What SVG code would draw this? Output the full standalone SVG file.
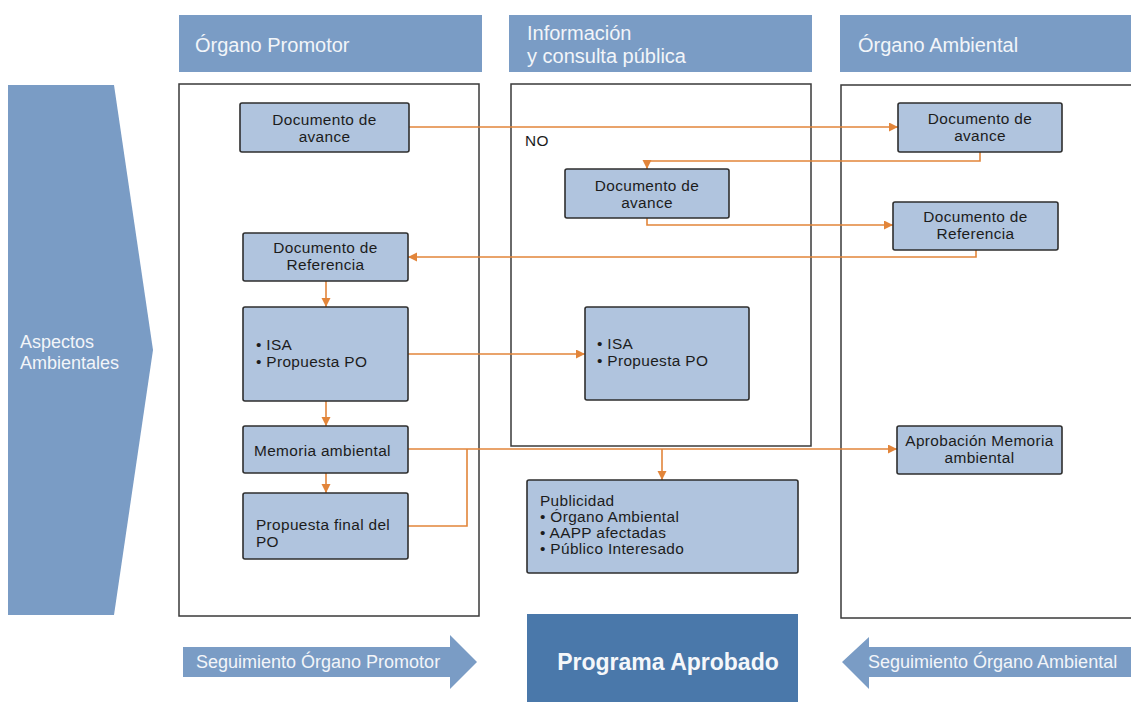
<svg xmlns="http://www.w3.org/2000/svg" width="1131" height="702" viewBox="0 0 1131 702">
<style>
.hdr{fill:#7A9CC5}
.hdrt{font-family:"Liberation Sans",Arial,sans-serif;font-size:20px;fill:#F2F5F9}
.cont{fill:#fff;stroke:#3a3a3a;stroke-width:1.5}
.box{fill:#B0C4DE;stroke:#2e2e2e;stroke-width:1.6}
.bt{font-family:"Liberation Sans",Arial,sans-serif;font-size:15.4px;letter-spacing:0.35px;fill:#1c1c1c}
.c{text-anchor:middle}
.con{fill:none;stroke:#E2853A;stroke-width:1.6}
.wt{font-family:"Liberation Sans",Arial,sans-serif;font-size:18px;fill:#F2F5F9}
</style>
<defs>
<marker id="ah" markerUnits="userSpaceOnUse" markerWidth="10" markerHeight="10" refX="9" refY="4.5" orient="auto">
<path d="M0,0 L9,4.5 L0,9 z" fill="#E2853A"/>
</marker>
</defs>
<rect width="1131" height="702" fill="#fff"/>

<g id="header-promotor">
<rect class="hdr" x="179" y="15" width="303" height="57"/>
<text class="hdrt" x="195" y="52">Órgano Promotor</text>
</g>
<g id="header-info">
<rect class="hdr" x="509" y="15" width="303" height="57"/>
<text class="hdrt" x="527" y="40">Información</text>
<text class="hdrt" x="527" y="63">y consulta pública</text>
</g>
<g id="header-ambiental">
<rect class="hdr" x="840" y="15" width="291" height="57"/>
<text class="hdrt" x="858" y="52">Órgano Ambiental</text>
</g>

<g id="aspectos">
<polygon class="hdr" points="8,85 114,85 153,350 114,615 8,615"/>
<text class="wt" x="20" y="348">Aspectos</text>
<text class="wt" x="20" y="369">Ambientales</text>
</g>

<g id="container-promotor"><rect class="cont" x="179" y="84" width="300" height="532"/></g>
<g id="container-info">
<rect class="cont" x="511" y="84" width="300" height="362"/>
<text class="bt" x="525" y="146">NO</text>
</g>
<g id="container-ambiental"><rect class="cont" x="841" y="85" width="295" height="533"/></g>

<g id="connectors">
<path class="con" d="M409,127 H898" marker-end="url(#ah)"/>
<path class="con" d="M980,152 V161 H647 V169" marker-end="url(#ah)"/>
<path class="con" d="M647,218 V225 H893" marker-end="url(#ah)"/>
<path class="con" d="M976,250 V257 H408" marker-end="url(#ah)"/>
<path class="con" d="M326,281 V307" marker-end="url(#ah)"/>
<path class="con" d="M408,354 H585" marker-end="url(#ah)"/>
<path class="con" d="M326,401 V426" marker-end="url(#ah)"/>
<path class="con" d="M326,473 V493" marker-end="url(#ah)"/>
<path class="con" d="M408,449 H897" marker-end="url(#ah)"/>
<path class="con" d="M662,449 V480" marker-end="url(#ah)"/>
<path class="con" d="M408,526 H467 V449"/>
</g>

<g id="doc-avance-promotor">
<rect class="box" x="240" y="103" width="169" height="49" rx="2"/>
<text class="bt c" x="324.5" y="125">Documento de</text>
<text class="bt c" x="324.5" y="142">avance</text>
</g>
<g id="doc-avance-info">
<rect class="box" x="565" y="169" width="164" height="49" rx="2"/>
<text class="bt c" x="647" y="191">Documento de</text>
<text class="bt c" x="647" y="208">avance</text>
</g>
<g id="doc-avance-ambiental">
<rect class="box" x="898" y="103" width="164" height="49" rx="2"/>
<text class="bt c" x="980" y="124">Documento de</text>
<text class="bt c" x="980" y="141">avance</text>
</g>
<g id="doc-referencia-ambiental">
<rect class="box" x="893" y="202" width="165" height="48" rx="2"/>
<text class="bt c" x="975.5" y="222">Documento de</text>
<text class="bt c" x="975.5" y="239">Referencia</text>
</g>
<g id="doc-referencia-promotor">
<rect class="box" x="243" y="233" width="165" height="48" rx="2"/>
<text class="bt c" x="325.5" y="253">Documento de</text>
<text class="bt c" x="325.5" y="270">Referencia</text>
</g>
<g id="isa-promotor">
<rect class="box" x="243" y="307" width="165" height="94" rx="2"/>
<text class="bt" x="256" y="350">• ISA</text>
<text class="bt" x="256" y="367">• Propuesta PO</text>
</g>
<g id="isa-info">
<rect class="box" x="585" y="307" width="164" height="93" rx="2"/>
<text class="bt" x="597" y="349">• ISA</text>
<text class="bt" x="597" y="366">• Propuesta PO</text>
</g>
<g id="memoria">
<rect class="box" x="243" y="426" width="165" height="47" rx="2"/>
<text class="bt" x="254" y="456">Memoria ambiental</text>
</g>
<g id="propuesta-final">
<rect class="box" x="243" y="493" width="165" height="66" rx="2"/>
<text class="bt" x="256" y="530">Propuesta final del</text>
<text class="bt" x="256" y="547">PO</text>
</g>
<g id="publicidad">
<rect class="box" x="527" y="480" width="271" height="93" rx="2"/>
<text class="bt" x="540" y="506">Publicidad</text>
<text class="bt" x="540" y="522">• Órgano Ambiental</text>
<text class="bt" x="540" y="538">• AAPP afectadas</text>
<text class="bt" x="540" y="554">• Público Interesado</text>
</g>
<g id="aprobacion">
<rect class="box" x="897" y="426" width="165" height="48" rx="2"/>
<text class="bt c" x="979.5" y="446">Aprobación Memoria</text>
<text class="bt c" x="979.5" y="463">ambiental</text>
</g>

<g id="seguimiento-promotor">
<polygon class="hdr" points="183,647 450,647 450,635 477,662 450,689 450,677 183,677"/>
<text class="wt" x="196" y="668">Seguimiento Órgano Promotor</text>
</g>
<g id="programa-aprobado">
<rect x="527" y="614" width="271" height="88" fill="#4A78AA"/>
<text x="668" y="670" text-anchor="middle" font-family="Liberation Sans, Arial, sans-serif" font-size="23" font-weight="bold" fill="#F5F7FA">Programa Aprobado</text>
</g>
<g id="seguimiento-ambiental">
<polygon class="hdr" points="842,662 869,637 869,647 1131,647 1131,677 869,677 869,689"/>
<text class="wt" x="868" y="668">Seguimiento Órgano Ambiental</text>
</g>
</svg>
